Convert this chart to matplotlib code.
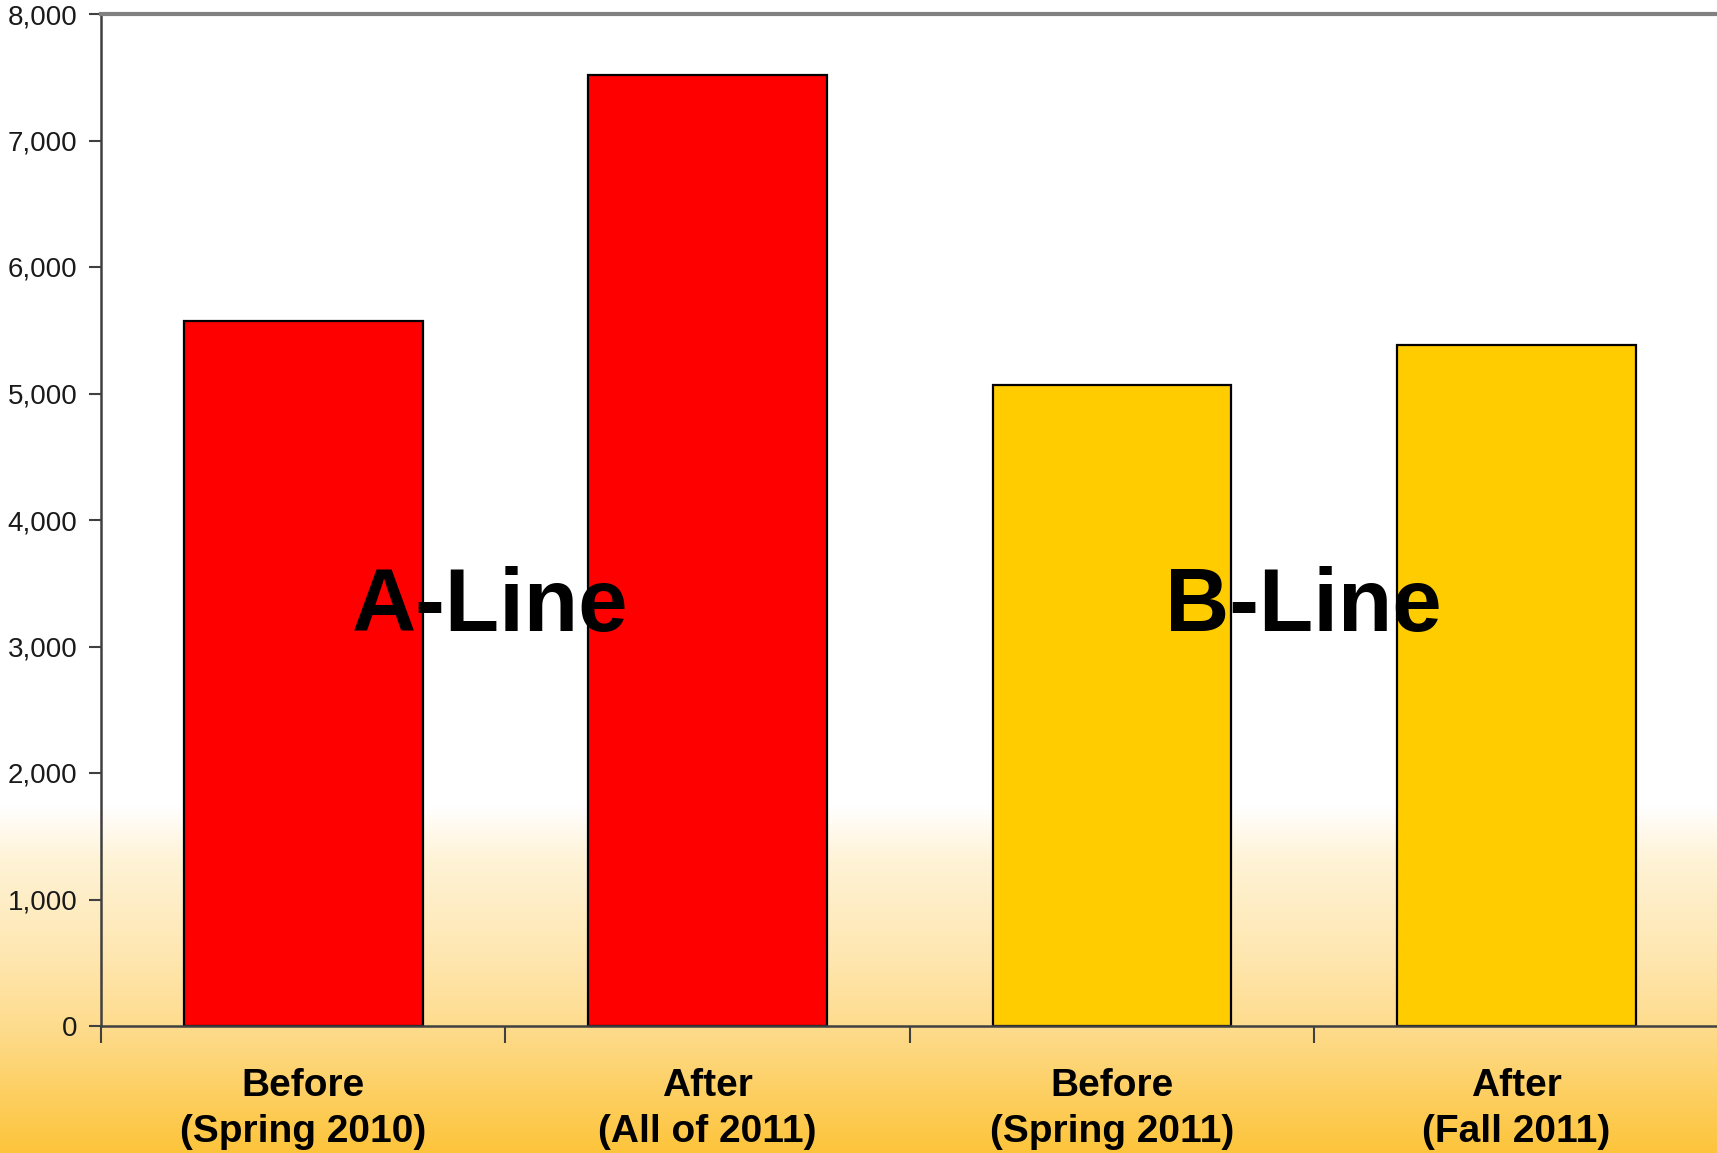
import matplotlib
matplotlib.use("Agg")
import matplotlib.pyplot as plt
import numpy as np
from matplotlib.colors import to_rgb

plt.rcParams['font.family'] = ['Liberation Sans', 'DejaVu Sans']

# riders per line, before and after the change
labels = ['Before\n(Spring 2010)', 'After\n(All of 2011)',
          'Before\n(Spring 2011)', 'After\n(Fall 2011)']
values = [5570, 7520, 5070, 5380]
groups = ['A-Line', 'B-Line']

bar_colors = ['#FF0000', '#FF0000', '#FFCC00', '#FFCC00']

W, H = 1717, 1153
fig = plt.figure(figsize=(W / 100, H / 100), dpi=100)

# background: white fading to orange at the bottom
bg = fig.add_axes([0, 0, 1, 1], zorder=-1)
stops_y = [0, 805, 860, 960, 1026, 1153]
stops_c = ['#FFFFFF', '#FFFFFF', '#FFF3D6', '#FEE6AE', '#FEDC8E', '#FDC43A']
rows = np.arange(H)
rgb = np.array([to_rgb(c) for c in stops_c])
grad = np.stack([np.interp(rows, stops_y, rgb[:, k]) for k in range(3)], axis=-1)
bg.imshow(grad[:, None, :], aspect='auto', extent=[0, 1, 0, 1])
bg.axis('off')

ax = fig.add_axes([101 / W, 127 / H, 1 - 101 / W + 0.001, (1026 - 14) / H])
ax.patch.set_alpha(0)

x = np.arange(len(values))
ax.bar(x, values, width=0.59, color=bar_colors, edgecolor='black', linewidth=1.6, zorder=2)

ax.set_xlim(-0.5, len(values) - 0.5)
ax.set_ylim(0, 8000)
ax.set_yticks(np.arange(0, 8001, 1000))
ax.set_yticklabels([f'{v:,}' for v in range(0, 8001, 1000)], fontsize=20, color='#1a1a1a')
ax.tick_params(axis='y', direction='out', length=9, width=1.5, color='#404040', pad=8)

ax.set_xticks(x)
ax.set_xticklabels(labels, fontsize=28, fontweight='bold', linespacing=1.36)
ax.tick_params(axis='x', which='major', length=0, pad=30)
ax.set_xticks(np.arange(-0.5, len(values) - 0.5, 1), minor=True)
ax.tick_params(axis='x', which='minor', direction='out', length=12, width=1.5, color='#404040')

for side in ['left', 'bottom']:
    ax.spines[side].set_color('#404040')
    ax.spines[side].set_linewidth(1.8)
ax.spines['top'].set_color('#808080')
ax.spines['top'].set_linewidth(3)
ax.spines['right'].set_color('#d0d0d0')
ax.spines['right'].set_linewidth(1)

# group names drawn across each pair of bars
for gx, name in zip([0.462, 2.474], groups):
    ax.text(gx, 3120, name, ha='center', va='baseline', fontsize=64,
            fontweight='bold', color='black', zorder=3)

fig.savefig('out.png', dpi=100)
